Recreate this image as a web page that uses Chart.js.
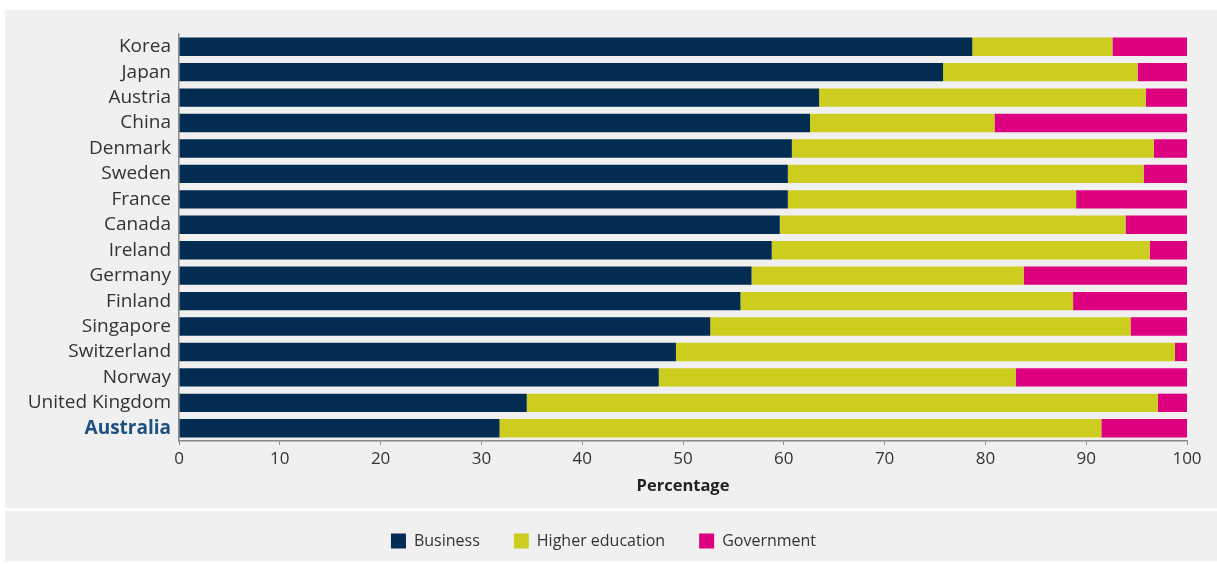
<!DOCTYPE html>
<html>
<head>
<meta charset="utf-8">
<script src="https://cdn.jsdelivr.net/npm/chart.js@4/dist/chart.umd.min.js"></script>
<style>
  html, body { margin: 0; padding: 0; background: #ffffff; }
  #wrap { width: 1217px; height: 564px; position: relative; }
</style>
</head>
<body>
<div id="wrap"><canvas id="c" width="1217" height="564"></canvas></div>
<script>
const countries = ["Korea","Japan","Austria","China","Denmark","Sweden","France","Canada","Ireland","Germany","Finland","Singapore","Switzerland","Norway","United Kingdom","Australia"];
const business = [78.7,75.8,63.5,62.6,60.8,60.4,60.4,59.6,58.8,56.8,55.7,52.7,49.3,47.6,34.5,31.8];
const higherEducation = [13.9,19.3,32.4,18.3,35.9,35.3,28.6,34.3,37.5,27.0,33.0,41.7,49.5,35.4,62.6,59.7];
const government = [7.4,4.9,4.1,19.1,3.3,4.3,11.0,6.1,3.7,16.2,11.3,5.6,1.2,17.0,2.9,8.5];
const xTicks = [0,10,20,30,40,50,60,70,80,90,100];
const seriesNames = ["Business","Higher education","Government"];
const highlight = "Australia";

const FONT = "'Open Sans', 'Noto Sans', sans-serif";

const bgPlugin = {
  id: 'panels',
  beforeDraw(chart) {
    const ctx = chart.ctx;
    ctx.save();
    ctx.fillStyle = '#ffffff';
    ctx.fillRect(0, 0, chart.width, chart.height);
    ctx.fillStyle = '#f0f0f0';
    ctx.fillRect(5, 10, chart.width - 5, 498);
    ctx.fillRect(5, 511, chart.width - 5, 50);
    ctx.restore();
  }
};

new Chart(document.getElementById('c'), {
  type: 'bar',
  data: {
    labels: countries,
    datasets: [
      { label: seriesNames[0], data: business, backgroundColor: '#032c52' },
      { label: seriesNames[1], data: higherEducation, backgroundColor: '#cdcd20' },
      { label: seriesNames[2], data: government, backgroundColor: '#dd007f' }
    ]
  },
  options: {
    indexAxis: 'y',
    responsive: false,
    animation: false,
    devicePixelRatio: 1,
    layout: { padding: { left: 20, right: 30, top: 34, bottom: 5 } },
    datasets: { bar: { barPercentage: 0.72, categoryPercentage: 1.0 } },
    scales: {
      x: {
        stacked: true,
        min: 0, max: 100,
        afterBuildTicks(scale) { scale.ticks = xTicks.map(v => ({ value: v })); },
        afterFit(scale) { scale.height = 58; },
        grid: { drawOnChartArea: false, drawTicks: true, tickLength: 4, color: '#8a8a8a', lineWidth: 1 },
        border: { display: true, color: '#8a8a8a', width: 1.5 },
        ticks: { color: '#333333', padding: 4, font: { family: FONT, size: 17 } },
        title: { display: true, text: 'Percentage', color: '#222222', padding: { top: 0, bottom: 3 }, font: { family: FONT, size: 16.5, weight: 'bold' } }
      },
      y: {
        stacked: true,
        afterFit(scale) { scale.width = 159; },
        grid: { display: false, drawTicks: false },
        border: { display: true, color: '#8a8a8a', width: 1.5 },
        ticks: {
          autoSkip: false,
          padding: 8,
          color: (c) => countries[c.index] === highlight ? '#1d4f80' : '#333333',
          font: (c) => ({ family: FONT, size: 19, weight: countries[c.index] === highlight ? 'bold' : 'normal' })
        }
      }
    },
    plugins: {
      legend: {
        position: 'bottom',
        labels: {
          boxWidth: 15, boxHeight: 15, padding: 34, color: '#333333',
          font: { family: FONT, size: 16 }
        }
      },
      tooltip: { enabled: false }
    }
  },
  plugins: [bgPlugin]
});
</script>
</body>
</html>
